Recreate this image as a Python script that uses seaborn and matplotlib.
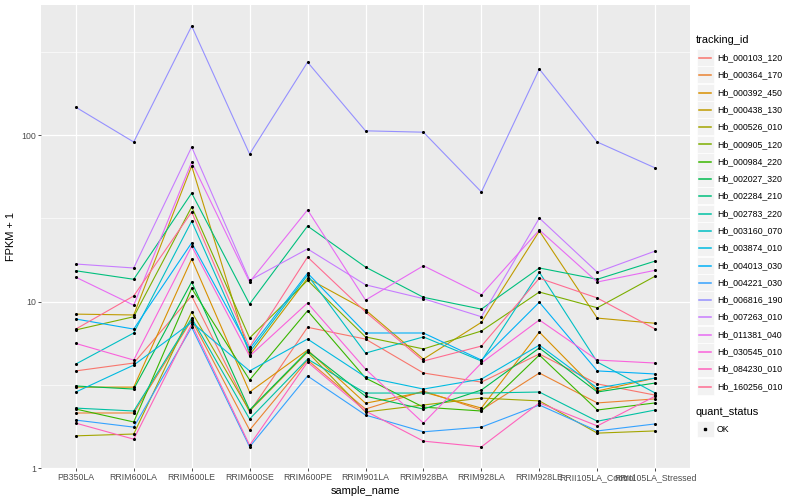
import pandas as pd
import matplotlib
matplotlib.use("Agg")
import matplotlib.pyplot as plt
import seaborn as sns
from matplotlib.lines import Line2D
from matplotlib.patches import Rectangle
from matplotlib.ticker import NullFormatter

# Samples on the x axis
samples = ["PB350LA", "RRIM600LA", "RRIM600LE", "RRIM600SE", "RRIM600PE", "RRIM901LA",
           "RRIM928BA", "RRIM928LA", "RRIM928LE", "RRII105LA_Control", "RRII105LA_Stressed"]

tracking_ids = ["Hb_000103_120", "Hb_000364_170", "Hb_000392_450", "Hb_000438_130", "Hb_000526_010",
                "Hb_000905_120", "Hb_000984_220", "Hb_002027_320", "Hb_002284_210", "Hb_002783_220",
                "Hb_003160_070", "Hb_003874_010", "Hb_004013_030", "Hb_004221_030", "Hb_006816_190",
                "Hb_007263_010", "Hb_011381_040", "Hb_030545_010", "Hb_084230_010", "Hb_160256_010"]

# ggplot default hue palette for 20 levels
colors = ["#F8766D", "#EA8331", "#D89000", "#C09B00", "#A3A500", "#7CAE00", "#39B600", "#00BB4E",
          "#00BF7D", "#00C1A3", "#00BFC4", "#00BAE0", "#00B0F6", "#35A2FF", "#9590FF", "#C77CFF",
          "#E76BF3", "#FA62DB", "#FF62BC", "#FF6C91"]

# FPKM + 1 values, one list per gene
hb_000103_120 = [3.83, 4.27, 10.8, 2.17, 7.0, 5.95, 3.72, 3.28, 4.84, 3.2, 2.74]
hb_000364_170 = [2.14, 2.14, 7.75, 1.69, 4.45, 2.26, 2.9, 2.23, 3.72, 2.46, 2.6]
hb_000392_450 = [3.06, 3.06, 18.0, 2.86, 5.11, 2.45, 2.86, 2.29, 6.55, 2.9, 3.47]
hb_000438_130 = [8.4, 8.3, 65.2, 4.77, 13.8, 8.9, 4.51, 7.5, 26.5, 7.95, 7.4]
hb_000526_010 = [1.56, 1.6, 8.66, 2.2, 4.97, 2.17, 2.39, 2.63, 2.53, 1.62, 1.67]
hb_000905_120 = [6.75, 8.1, 37.0, 6.04, 13.4, 6.13, 5.19, 6.65, 11.4, 9.17, 14.2]
hb_000984_220 = [2.26, 1.89, 12.0, 3.38, 8.8, 3.47, 2.32, 2.2, 4.77, 2.23, 2.46]
hb_002027_320 = [3.11, 2.98, 13.1, 2.23, 5.04, 2.7, 2.26, 2.94, 5.26, 2.86, 3.24]
hb_002284_210 = [15.3, 13.6, 44.8, 9.66, 28.4, 16.1, 10.6, 9.0, 15.9, 13.6, 17.5]
hb_002783_220 = [2.29, 2.2, 7.95, 1.97, 4.51, 2.82, 2.82, 2.82, 2.86, 1.91, 2.23]
hb_003160_070 = [4.21, 6.47, 30.4, 4.97, 14.4, 4.9, 6.13, 4.39, 15.0, 4.33, 2.82]
hb_003874_010 = [2.86, 4.15, 7.5, 3.83, 5.95, 3.52, 2.98, 3.42, 5.47, 3.02, 3.47]
hb_004013_030 = [7.85, 6.83, 22.5, 5.19, 14.8, 6.47, 6.47, 4.45, 9.9, 3.83, 3.67]
hb_004221_030 = [1.94, 1.76, 7.0, 1.34, 3.57, 2.08, 1.65, 1.76, 2.39, 1.67, 1.84]
hb_006816_190 = [147, 90.8, 452, 76.9, 274, 106, 104, 45.5, 249, 90.8, 63.4]
hb_007263_010 = [16.8, 15.9, 84.7, 13.4, 20.7, 12.6, 10.4, 8.1, 31.7, 15.0, 20.1]
hb_011381_040 = [14.0, 9.5, 68.8, 13.1, 35.5, 10.2, 16.4, 11.0, 26.9, 13.1, 15.4]
hb_030545_010 = [5.6, 4.45, 21.5, 4.7, 9.8, 3.93, 1.86, 4.27, 7.75, 4.45, 4.27]
hb_084230_010 = [1.86, 1.49, 7.3, 1.37, 4.33, 2.2, 1.45, 1.34, 2.46, 1.79, 2.7]
hb_160256_010 = [6.83, 10.8, 34.5, 5.33, 18.5, 8.66, 4.39, 5.4, 13.8, 10.5, 6.83]

series = [hb_000103_120, hb_000364_170, hb_000392_450, hb_000438_130, hb_000526_010,
          hb_000905_120, hb_000984_220, hb_002027_320, hb_002284_210, hb_002783_220,
          hb_003160_070, hb_003874_010, hb_004013_030, hb_004221_030, hb_006816_190,
          hb_007263_010, hb_011381_040, hb_030545_010, hb_084230_010, hb_160256_010]

# Long table for seaborn
rows = []
for tid, vals in zip(tracking_ids, series):
    for s, v in zip(samples, vals):
        rows.append({"tracking_id": tid, "sample_name": s, "fpkm": v, "quant_status": "OK"})
df = pd.DataFrame(rows)

plt.rcParams['font.family'] = ['Liberation Sans', 'DejaVu Sans']

W, H = 800, 500
fig = plt.figure(figsize=(8, 5), dpi=100)
ax = fig.add_axes([41 / W, 32 / H, 649 / W, 463 / H])
ax.set_facecolor("#EBEBEB")

sns.lineplot(data=df, x="sample_name", y="fpkm", hue="tracking_id", hue_order=tracking_ids,
             palette=colors, estimator=None, sort=False, legend=False, lw=0.8, ax=ax)
sns.scatterplot(data=df, x="sample_name", y="fpkm", color="black", marker="o", s=5,
                linewidth=0, legend=False, ax=ax, zorder=3)

ax.set_yscale("log")
ax.set_ylim(1, 604)
ax.set_xlim(-0.6, len(samples) - 0.4)
ax.set_yticks([1, 10, 100])
ax.set_yticklabels(["1", "10", "100"])
ax.set_yticks([10 ** 0.5, 10 ** 1.5, 10 ** 2.5], minor=True)
ax.yaxis.set_minor_formatter(NullFormatter())

ax.set_axisbelow(True)
ax.grid(which="major", color="white", lw=0.9)
ax.grid(which="minor", axis="y", color="white", lw=0.45)
for sp in ax.spines.values():
    sp.set_visible(False)
ax.tick_params(which="major", colors="#333333", labelcolor="#4D4D4D", labelsize=6.3,
               length=2, width=0.6, pad=1.5)
ax.tick_params(which="minor", length=0)

ax.set_xlabel("sample_name", fontsize=7.9, labelpad=3)
ax.set_ylabel("FPKM + 1", fontsize=7.9, labelpad=4)

# Legend, drawn ggplot-style to the right of the panel
def fx(px):
    return px / W

def fy(py):
    return 1 - py / H

fig.text(fx(696), fy(40), "tracking_id", fontsize=7.9, va="center", ha="left")
step = 17.3
for i, (tid, col) in enumerate(zip(tracking_ids, colors)):
    yc = round(57 + i * step) + 0.5
    fig.add_artist(Rectangle((fx(697), fy(yc + 8.3)), 16.5 / W, 16.6 / H,
                             transform=fig.transFigure, facecolor="#F2F2F2", edgecolor="white",
                             lw=0.5, zorder=1))
    fig.add_artist(Line2D([fx(699), fx(711)], [fy(yc), fy(yc)], transform=fig.transFigure,
                          color=col, lw=1.1, zorder=2))
    fig.text(fx(717), fy(yc), tid, fontsize=6.3, va="center", ha="left")

fig.text(fx(696), fy(412), "quant_status", fontsize=7.9, va="center", ha="left")
fig.add_artist(Rectangle((fx(697), fy(429 + 8.3)), 16.5 / W, 16.6 / H,
                         transform=fig.transFigure, facecolor="#F2F2F2", edgecolor="white",
                         lw=0.5, zorder=1))
fig.add_artist(Line2D([fx(705)], [fy(429)], transform=fig.transFigure, marker="s",
                      markersize=2.0, color="black", lw=0, zorder=2))
fig.text(fx(717), fy(429), "OK", fontsize=6.3, va="center", ha="left")

fig.savefig("out.png", dpi=100, facecolor="white")
